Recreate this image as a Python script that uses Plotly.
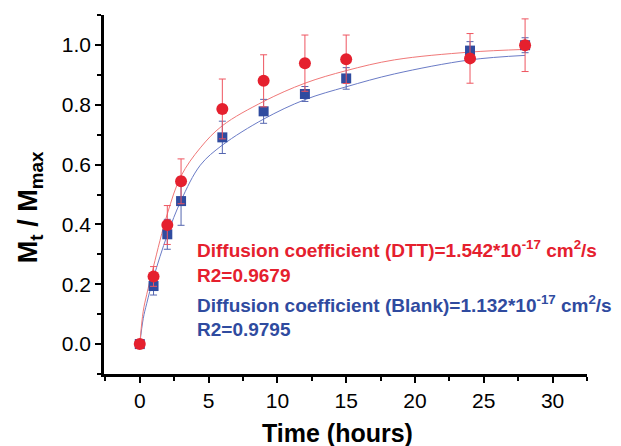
import plotly.graph_objects as go

# Measured data
time_h = [0, 1, 2, 3, 6, 9, 12, 15, 24, 28]
dtt_vals = [0.0, 0.226, 0.398, 0.544, 0.786, 0.880, 0.939, 0.952, 0.955, 0.999]
dtt_err = [0.0, 0.033, 0.065, 0.075, 0.100, 0.087, 0.094, 0.081, 0.083, 0.088]
blank_vals = [0.0, 0.194, 0.367, 0.478, 0.691, 0.778, 0.836, 0.888, 0.981, 0.999]
blank_err = [0.0, 0.030, 0.050, 0.081, 0.054, 0.040, 0.025, 0.036, 0.030, 0.025]

# Fitted curves
fit_t = [0, 0.25, 0.5, 1, 2, 3, 4.4, 6, 9, 12, 15, 18.5, 24, 28]
dtt_fit = [0.0, 0.11, 0.165, 0.26, 0.435, 0.562, 0.656, 0.73, 0.811, 0.872, 0.914, 0.95, 0.976, 0.985]
blank_fit = [0.0, 0.085, 0.135, 0.222, 0.365, 0.48, 0.598, 0.665, 0.752, 0.817, 0.86, 0.903, 0.95, 0.965]

x_ticks = [0, 5, 10, 15, 20, 25, 30]
y_ticks = [0.0, 0.2, 0.4, 0.6, 0.8, 1.0]

RED = "#E5202E"
BLUE = "#2F4B9F"
FONT = "Arial, Liberation Sans, sans-serif"

fig = go.Figure()

fig.add_trace(go.Scatter(x=fit_t, y=blank_fit, mode="lines",
                         line=dict(color="#6A7BC6", width=1, shape="spline"),
                         hoverinfo="skip"))
fig.add_trace(go.Scatter(x=fit_t, y=dtt_fit, mode="lines",
                         line=dict(color="#F07878", width=1, shape="spline"),
                         hoverinfo="skip"))

fig.add_trace(go.Scatter(x=time_h, y=blank_vals, mode="markers",
                         marker=dict(symbol="square", size=10, color=BLUE),
                         error_y=dict(type="data", array=blank_err, visible=True,
                                      color="#5566B0", thickness=1, width=3.5)))
fig.add_trace(go.Scatter(x=time_h, y=dtt_vals, mode="markers",
                         marker=dict(symbol="circle", size=12, color=RED),
                         error_y=dict(type="data", array=dtt_err, visible=True,
                                      color="#EE5560", thickness=1, width=3.5)))

ann_font = 19
annotations = [
    dict(x=4.0, y=0.317, xref="x", yref="y", xanchor="left", yanchor="middle",
         text="<b>Diffusion coefficient (DTT)=1.542*10<sup>-17</sup> cm<sup>2</sup>/s</b>",
         showarrow=False, font=dict(family=FONT, size=ann_font, color=RED)),
    dict(x=4.0, y=0.230, xref="x", yref="y", xanchor="left", yanchor="middle",
         text="<b>R2=0.9679</b>",
         showarrow=False, font=dict(family=FONT, size=ann_font, color=RED)),
    dict(x=4.0, y=0.133, xref="x", yref="y", xanchor="left", yanchor="middle",
         text="<b>Diffusion coefficient (Blank)=1.132*10<sup>-17</sup> cm<sup>2</sup>/s</b>",
         showarrow=False, font=dict(family=FONT, size=ann_font, color=BLUE)),
    dict(x=4.0, y=0.050, xref="x", yref="y", xanchor="left", yanchor="middle",
         text="<b>R2=0.9795</b>",
         showarrow=False, font=dict(family=FONT, size=ann_font, color=BLUE)),
    dict(x=0.483, y=-0.164, xref="paper", yref="paper", xanchor="center", yanchor="middle",
         text="<b>Time (hours)</b>", showarrow=False,
         font=dict(family=FONT, size=25, color="black")),
    dict(x=-0.153, y=0.465, xref="paper", yref="paper", xanchor="center", yanchor="middle",
         text="<b>M<sub>t</sub> / M<sub>max</sub></b>", showarrow=False, textangle=-90,
         font=dict(family=FONT, size=27, color="black")),
]

# page body has an 8px default margin, so the figure is sized to fit inside the window
fig.update_layout(
    width=613, height=438,
    margin=dict(l=96, r=34, t=7, b=72),
    paper_bgcolor="white", plot_bgcolor="white",
    showlegend=False,
    annotations=annotations,
    font=dict(family=FONT, color="black"),
)

fig.update_xaxes(
    range=[-2.6, 32.5], tickvals=x_ticks, ticktext=[str(v) for v in x_ticks],
    showgrid=False, zeroline=False, showline=True, linecolor="black", linewidth=2.5,
    ticks="outside", ticklen=6, tickwidth=2, tickcolor="black",
    tickfont=dict(family=FONT, size=21, color="black"),
    minor=dict(dtick=2.5, tick0=0, ticks="outside", ticklen=4, tickwidth=2, tickcolor="black"),
)
fig.update_yaxes(
    range=[-0.1, 1.1], tickvals=y_ticks, ticktext=[f"{v:.1f}" for v in y_ticks],
    showgrid=False, zeroline=False, showline=True, linecolor="black", linewidth=2.5,
    ticks="outside", ticklen=6, tickwidth=2, tickcolor="black",
    tickfont=dict(family=FONT, size=21, color="black"),
    minor=dict(dtick=0.1, tick0=0, ticks="outside", ticklen=4, tickwidth=2, tickcolor="black"),
)

fig.write_html("out.html")
